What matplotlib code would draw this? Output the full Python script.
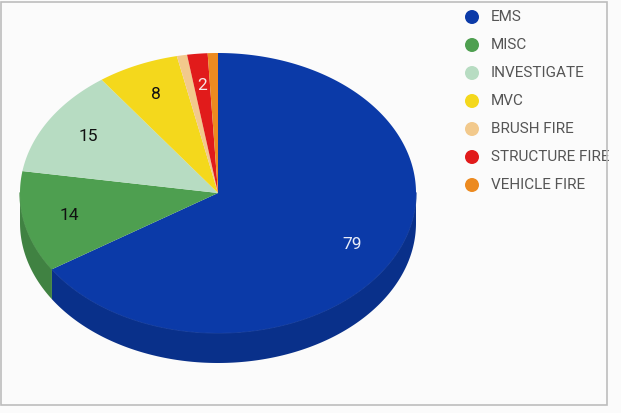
import numpy as np
import matplotlib
matplotlib.use("Agg")
import matplotlib.pyplot as plt
from matplotlib.patches import Polygon, Ellipse, Rectangle
from matplotlib.colors import to_rgb

categories = ["EMS", "MISC", "INVESTIGATE", "MVC", "BRUSH FIRE", "STRUCTURE FIRE", "VEHICLE FIRE"]
values = [79, 14, 15, 8, 1, 2, 1]
colors = ["#0B3AA8", "#4E9F50", "#B7DCC2", "#F4D81C", "#F2C98C", "#E11B1B", "#EC8A20"]
label_colors = ["#E8ECF8", "#111111", "#111111", "#111111", "#111111", "#F6E6E6", "#111111"]

W, H = 621, 413
fig = plt.figure(figsize=(W / 100, H / 100), dpi=100)
fig.patch.set_facecolor("#FBFBFB")
ax = fig.add_axes([0, 0, 1, 1])
ax.set_xlim(0, W)
ax.set_ylim(H, 0)
ax.axis("off")

cx, cy, rx, ry, depth = 218, 193, 198, 140, 30
total = sum(values)


def pt(theta_deg, dy=0.0, f=1.0):
    t = np.radians(theta_deg)
    return cx + f * rx * np.sin(t), cy - f * ry * np.cos(t) + dy


def darker(c, k=0.82):
    r, g, b = to_rgb(c)
    return (r * k, g * k, b * k)


# compute angles
starts, ends = [], []
acc = 0.0
for v in values:
    starts.append(acc / total * 360)
    acc += v
    ends.append(acc / total * 360)

# side walls (front half: 90..270 deg)
for s, e, c in zip(starts, ends, colors):
    a0, a1 = max(s, 90), min(e, 270)
    if a1 <= a0:
        continue
    th = np.linspace(a0, a1, 200)
    top = [pt(t) for t in th]
    bot = [pt(t, depth) for t in th[::-1]]
    ax.add_patch(Polygon(top + bot, closed=True, facecolor=darker(c), edgecolor="none", zorder=2))
    xs, ys = zip(*top)
    ax.plot(xs, ys, color=tuple(min(1, x + 0.07) for x in darker(c)), lw=0.9, zorder=2.5)

# top faces
for s, e, c in zip(starts, ends, colors):
    th = np.linspace(s, e, max(10, int((e - s) * 3)))
    poly = [(cx, cy)] + [pt(t) for t in th]
    ax.add_patch(Polygon(poly, closed=True, facecolor=c, edgecolor="none", zorder=3))

# slice labels
for s, e, v, lc in zip(starts, ends, values, label_colors):
    if v < 2:
        continue
    m = (s + e) / 2
    x, y = pt(m, f=0.77)
    ax.text(x, y, str(v), ha="center", va="center", fontsize=12.5,
            family=["Roboto", "DejaVu Sans"], color=lc, zorder=5)

# legend
lx, ly0, dy = 472, 17, 28
for i, (cat, c) in enumerate(zip(categories, colors)):
    y = ly0 + i * dy
    ax.add_patch(Ellipse((lx, y), 14, 14, facecolor=c, edgecolor="none", zorder=4))
    ax.text(lx + 19, y, cat, ha="left", va="center", fontsize=11,
            family=["Roboto", "DejaVu Sans"], color="#555555", zorder=4)

# frame of the scanned chart
ax.add_patch(Rectangle((1, 2), 606, 403, facecolor="none", edgecolor="#BDBDBD", lw=1.2, zorder=6))

fig.savefig("out.png", dpi=100, facecolor=fig.get_facecolor())
